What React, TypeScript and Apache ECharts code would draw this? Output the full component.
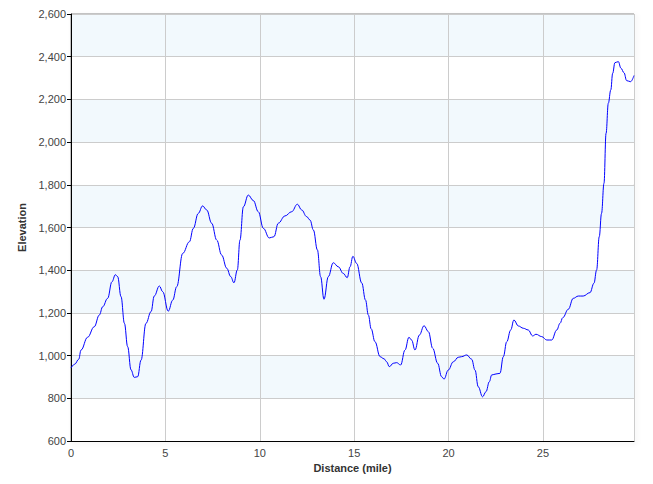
import React, { useEffect, useRef } from "react";
import * as echarts from "echarts";

const distance = [
  0.0, 0.2, 0.41, 0.53, 0.88, 1.23, 1.5, 1.68, 1.94, 2.17, 2.35, 2.47, 2.65, 2.83, 3.0, 3.18, 3.35, 3.53,
  3.71, 3.97, 4.24, 4.41, 4.68, 4.86, 5.15, 5.39, 5.6, 5.92, 6.27, 6.48, 6.74, 6.97, 7.19, 7.45, 7.72,
  7.98, 8.25, 8.46, 8.63, 8.81, 8.95, 9.13, 9.39, 9.66, 9.92, 10.19, 10.5, 10.75, 10.98, 11.33, 11.69,
  11.99, 12.22, 12.48, 12.66, 12.84, 13.05, 13.22, 13.4, 13.63, 13.89, 14.16, 14.42, 14.63, 14.78, 14.93,
  15.13, 15.4, 15.6, 15.75, 15.9, 16.1, 16.37, 16.58, 16.72, 16.86, 17.07, 17.25, 17.46, 17.69, 17.9,
  18.04, 18.22, 18.45, 18.7, 18.93, 19.16, 19.42, 19.63, 19.76, 19.98, 20.25, 20.51, 20.69, 20.96, 21.22,
  21.4, 21.57, 21.8, 21.98, 22.16, 22.28, 22.51, 22.72, 22.9, 23.08, 23.29, 23.46, 23.69, 23.96, 24.22,
  24.45, 24.63, 24.93, 25.2, 25.46, 25.73, 25.9, 26.05, 26.34, 26.6, 26.87, 27.13, 27.49, 27.7, 27.84,
  27.98, 28.1, 28.23, 28.34, 28.46, 28.59, 28.69, 28.81, 28.99, 29.13, 29.29, 29.43, 29.64, 29.82,
];

const elevation = [
  942, 960, 983, 1026, 1086, 1135, 1190, 1229, 1268, 1346, 1379, 1370, 1276, 1151, 1042, 933, 898, 901,
  979, 1151, 1206, 1279, 1326, 1299, 1208, 1260, 1323, 1479, 1533, 1596, 1666, 1701, 1682, 1620, 1541,
  1471, 1409, 1370, 1341, 1401, 1541, 1697, 1752, 1726, 1674, 1596, 1551, 1557, 1620, 1654, 1674,
  1709, 1682, 1651, 1635, 1588, 1495, 1370, 1264, 1370, 1435, 1416, 1385, 1365, 1416, 1465,
  1432, 1340, 1260, 1190, 1125, 1065, 995, 985, 971, 948, 964, 967, 956, 1026, 1086,
  1073, 1026, 1096, 1140, 1112, 1034, 964, 901, 890, 932, 971, 992, 995, 1003, 983,
  932, 854, 807, 831, 878, 909, 914, 917, 995, 1065, 1120, 1167, 1139, 1128, 1120,
  1092, 1100, 1089, 1073, 1073, 1120, 1151, 1178, 1217, 1268, 1279, 1279, 1295, 1339, 1401,
  1557, 1666, 1807, 2041, 2182, 2244, 2322, 2372, 2377, 2346, 2325, 2288, 2283, 2312,
];

const xMin = 0;
const xMax = 29.82;
const xStep = 5;
const yMin = 600;
const yMax = 2600;
const yStep = 200;

const FONT = 'Arial, "Liberation Sans", sans-serif';

export default function App() {
  const ref = useRef<HTMLDivElement>(null);
  useEffect(() => {
    if (!ref.current) return;
    const chart = echarts.init(ref.current, null, { renderer: "svg" });
    const points = distance.map((d, i) => [d, elevation[i]]);
    chart.setOption({
      animation: false,
      backgroundColor: "#ffffff",
      grid: {
        left: 71,
        top: 14,
        right: 19,
        bottom: 43,
        show: true,
        borderColor: "#888888",
        borderWidth: 1,
        backgroundColor: "transparent",
        shadowColor: "rgba(0,0,0,0.12)",
        shadowBlur: 5,
        shadowOffsetX: 2,
        shadowOffsetY: 2,
      },
      xAxis: {
        type: "value",
        min: xMin,
        max: xMax,
        interval: xStep,
        name: "Distance (mile)",
        nameLocation: "middle",
        nameGap: 16,
        nameTextStyle: { fontFamily: FONT, fontSize: 11, fontWeight: "bold", color: "#333", verticalAlign: "top" },
        axisLine: { show: true, lineStyle: { color: "#000", width: 1 } },
        axisTick: { show: false },
        axisLabel: {
          fontFamily: FONT,
          fontSize: 11,
          color: "#444",
          margin: 6,
          showMaxLabel: false,
          formatter: (v: number) => (v % xStep === 0 ? String(v) : ""),
        },
        splitLine: { show: true, lineStyle: { color: "#cccccc", width: 1 } },
      },
      yAxis: {
        type: "value",
        min: yMin,
        max: yMax,
        interval: yStep,
        name: "Elevation",
        nameLocation: "middle",
        nameGap: 39,
        nameTextStyle: { fontFamily: FONT, fontSize: 11, fontWeight: "bold", color: "#333" },
        axisLine: { show: true, lineStyle: { color: "#000", width: 1 } },
        axisTick: { show: true, length: 4, lineStyle: { color: "#000" } },
        axisLabel: {
          fontFamily: FONT,
          fontSize: 11,
          color: "#444",
          margin: 5,
          formatter: (v: number) => v.toLocaleString("en-US"),
        },
        splitLine: { show: true, lineStyle: { color: "#cccccc", width: 1 } },
        splitArea: { show: true, areaStyle: { color: ["#ffffff", "#f2f9fd"] } },
      },
      series: [
        {
          type: "line",
          data: points,
          showSymbol: false,
          smooth: 0.4,
          smoothMonotone: "x",
          lineStyle: { color: "#0000ff", width: 1 },
          itemStyle: { color: "#0000ff" },
        },
      ],
    });
    return () => chart.dispose();
  }, []);
  return (
    <div
      ref={ref}
      style={{ position: "absolute", left: 0, top: 0, width: 653, height: 484 }}
    />
  );
}
